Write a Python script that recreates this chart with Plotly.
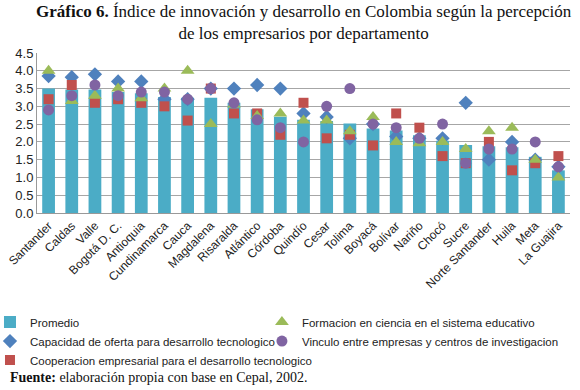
import plotly.graph_objects as go

departamentos = ["Santander", "Caldas", "Valle", "Bogotá D. C.", "Antioquia", "Cundinamarca",
                 "Cauca", "Magdalena", "Risaralda", "Atlántico", "Córdoba", "Quindío", "Cesar",
                 "Tolima", "Boyacá", "Bolívar", "Nariño", "Chocó", "Sucre", "Norte Santander",
                 "Huila", "Meta", "La Guajira"]
promedio = [3.5, 3.47, 3.47, 3.4, 3.37, 3.26, 3.24, 3.24, 3.1, 2.92, 2.71, 2.62, 2.59,
            2.52, 2.38, 2.32, 2.19, 2.03, 1.91, 1.88, 1.85, 1.58, 1.2]
capacidad = [3.85, 3.82, 3.9, 3.7, 3.7, 3.2, 3.2, 3.5, 3.5, 3.6, 3.5, 2.8, 2.7,
             2.1, 2.5, 2.15, 2.1, 2.1, 3.1, 1.5, 2.0, 1.5, 1.3]
cooperacion = [3.2, 3.6, 3.1, 3.2, 3.1, 3.0, 2.6, 3.5, 2.8, 2.8, 2.2, 3.1, 2.1,
               2.2, 1.9, 2.8, 2.4, 1.6, 1.4, 2.0, 1.2, 1.4, 1.6]
formacion = [4.0, 3.15, 3.3, 3.5, 3.23, 3.5, 4.0, 2.5, 3.05, 2.73, 2.8, 2.6, 2.6,
             2.3, 2.7, 2.0, 1.96, 2.0, 1.8, 2.3, 2.4, 1.5, 1.0]
vinculo = [2.9, 3.3, 3.6, 3.3, 3.4, 3.4, 3.2, 3.5, 3.1, 2.62, 2.4, 2.0, 3.0,
           3.5, 2.5, 2.4, 2.1, 2.5, 1.4, 1.8, 1.8, 2.0, 1.3]
y_ticks = [0, 0.5, 1.0, 1.5, 2.0, 2.5, 3.0, 3.5, 4.0, 4.5]

sans = "Liberation Sans"
serif = "Liberation Serif"

fig = go.Figure()
fig.add_trace(go.Bar(x=departamentos, y=promedio, name="Promedio", legend="legend",
                     legendrank=1, marker=dict(color="#4BACC6", line=dict(width=0))))
fig.add_trace(go.Scatter(x=departamentos, y=capacidad, mode="markers", legend="legend",
                         legendrank=2,
                         name="Capacidad de oferta para desarrollo tecnologico",
                         marker=dict(symbol="diamond", size=11, color="#4F81BD")))
fig.add_trace(go.Scatter(x=departamentos, y=cooperacion, mode="markers", legend="legend",
                         legendrank=3,
                         name="Cooperacion empresarial para el desarrollo tecnologico",
                         marker=dict(symbol="square", size=10, color="#C0504D")))
fig.add_trace(go.Scatter(x=departamentos, y=formacion, mode="markers", legend="legend2",
                         legendrank=1,
                         name="Formacion en ciencia en el sistema educativo",
                         marker=dict(symbol="triangle-up", size=12, color="#9BBB59")))
fig.add_trace(go.Scatter(x=departamentos, y=vinculo, mode="markers", legend="legend2",
                         legendrank=2,
                         name="Vinculo entre empresas y centros de investigacion",
                         marker=dict(symbol="circle", size=11, color="#8064A2")))

legend_common = dict(orientation="v", yanchor="top", xanchor="left", itemwidth=30,
                     font=dict(family=sans, size=11.5, color="#222"),
                     traceorder="normal", tracegroupgap=0, bgcolor="rgba(0,0,0,0)")

fig.update_layout(
    width=580, height=390,
    margin=dict(l=37, r=10, t=53, b=177, autoexpand=False),
    paper_bgcolor="white", plot_bgcolor="white",
    bargap=0.45,
    showlegend=True,
    legend=dict(x=-0.0882, y=-0.591, **legend_common),
    legend2=dict(x=0.422, y=-0.591, **legend_common),
    font=dict(family=sans, size=12, color="#222"),
)
fig.update_xaxes(type="category", tickangle=-45, showline=True, linecolor="#999",
                 linewidth=1, ticks="", showgrid=False, automargin=False,
                 tickfont=dict(family=sans, size=12, color="#222"),
                 range=[-0.5, len(departamentos) - 0.5])
fig.update_yaxes(range=[0, 4.5], tickvals=y_ticks, tickformat=".1f", showgrid=True,
                 gridcolor="#A6A6A6", gridwidth=1, showline=True, linecolor="#999",
                 zeroline=False, ticks="", automargin=False,
                 tickfont=dict(family=sans, size=13, color="#222"))

fig.add_annotation(xref="paper", yref="paper", x=0.5, y=1.0, yshift=31, xanchor="center",
                   yanchor="middle", showarrow=False, align="center",
                   text="<b>Gráfico 6.</b> Índice de innovación y desarrollo en Colombia según la percepción<br>de los empresarios por departamento",
                   font=dict(family=serif, size=17, color="#111"))
fig.add_annotation(xref="paper", yref="paper", x=-0.054, y=0, yshift=-164, xanchor="left",
                   yanchor="middle", showarrow=False, align="left",
                   text="<b>Fuente:</b> elaboración propia con base en Cepal, 2002.",
                   font=dict(family=serif, size=14, color="#111"))

fig.write_html("out.html", config={"displayModeBar": False},
               post_script="document.body.style.margin='0';")
